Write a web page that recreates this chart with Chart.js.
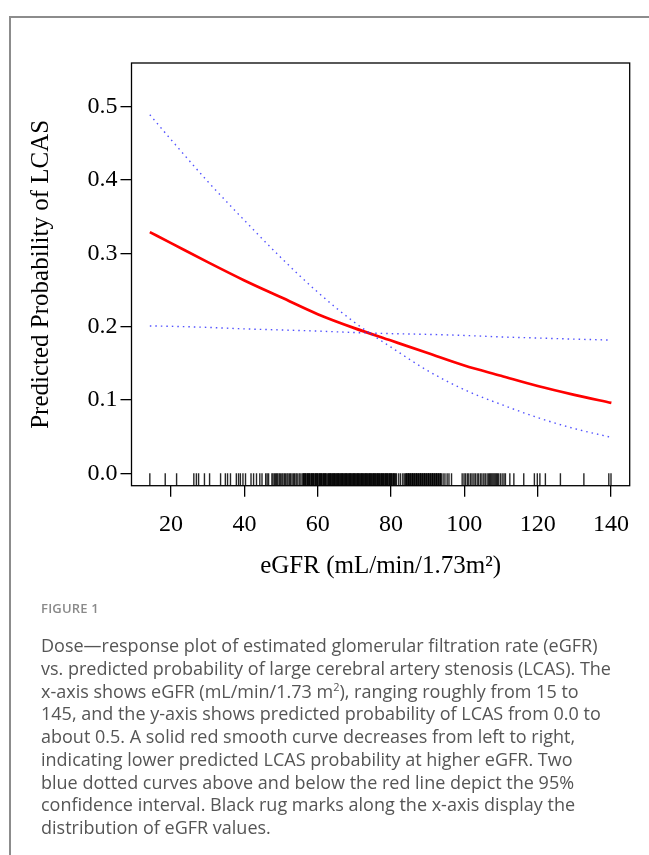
<!DOCTYPE html>
<html><head><meta charset="utf-8">
<script src="https://cdn.jsdelivr.net/npm/chart.js@4"></script>
<style>
html,body{margin:0;padding:0;background:#fff;width:649px;height:855px;overflow:hidden;}
#frame{position:absolute;left:9px;top:16px;width:650px;height:850px;border-left:2px solid #8c8c8c;border-top:2px solid #8c8c8c;}
#wrap{position:absolute;left:0;top:0;width:649px;height:600px;}
#cap{position:absolute;left:41px;top:598px;width:572px;font-family:"Open Sans",sans-serif;color:#555;}
#fig{font-size:13px;font-weight:600;color:#8a8a8a;letter-spacing:0.2px;line-height:20px;}
#txt{font-size:18px;line-height:22.75px;margin-top:16px;}
sup{font-size:11px;line-height:0;vertical-align:7px;}
</style>
</head><body>
<div id="frame"></div>
<div id="wrap"><canvas id="c" width="649" height="600"></canvas></div>
<div id="cap">
<div id="fig">FIGURE 1</div>
<div id="txt">Dose—response plot of estimated glomerular filtration rate (eGFR) vs. predicted probability of large cerebral artery stenosis (LCAS). The x-axis shows eGFR (mL/min/1.73 m<sup>2</sup>), ranging roughly from 15 to 145, and the y-axis shows predicted probability of LCAS from 0.0 to about 0.5. A solid red smooth curve decreases from left to right, indicating lower predicted LCAS probability at higher eGFR. Two blue dotted curves above and below the red line depict the 95% confidence interval. Black rug marks along the x-axis display the distribution of eGFR values.</div>
</div>
<script>
const curveX = [14.2, 20, 30, 40, 50, 60, 70, 80, 90, 100, 110, 120, 130, 140.1];
const predicted = [0.329, 0.314, 0.288, 0.263, 0.240, 0.217, 0.198, 0.181, 0.164, 0.147, 0.133, 0.119, 0.107, 0.096];
const ciSteep = [0.489, 0.455, 0.398, 0.345, 0.294, 0.247, 0.206, 0.172, 0.140, 0.114, 0.094, 0.076, 0.061, 0.049];
const ciFlat = [0.201, 0.2005, 0.199, 0.197, 0.1955, 0.194, 0.192, 0.1905, 0.1895, 0.188, 0.186, 0.1845, 0.183, 0.1817];
const xTicks = [20, 40, 60, 80, 100, 120, 140];
const yTicks = [0.0, 0.1, 0.2, 0.3, 0.4, 0.5];
const rugValues = [
14.2, 18.4, 21.5, 26.2, 26.9, 27.5, 29.1, 30.5, 33.5, 34.8, 35.4, 36.2, 37.8, 38.4, 38.9, 39.6, 40.3, 41.8, 42.5, 43.3, 44.2, 44.8,
45.8, 46.2, 46.6, 47.5, 47.8, 48.2, 48.5, 48.8, 49.1, 49.5, 49.8, 50.2, 50.5, 50.9, 51.2, 51.6, 51.9, 52.3, 52.6, 53.0, 53.4, 53.7, 54.1, 54.4, 54.9, 55.2,
55.7, 56.0, 56.3, 56.5, 56.8, 57.1, 57.4, 57.6, 57.9, 58.2, 58.5, 58.7, 59.0, 59.3, 59.6, 59.8, 60.1, 60.4, 60.7, 60.9, 61.2, 61.5, 61.8, 62.0, 62.3,
62.9, 63.2, 63.4, 63.7, 64.0, 64.3, 64.5, 64.8, 65.1, 65.4, 65.6, 65.9, 66.2, 66.5, 66.7, 67.0, 67.3, 67.6, 67.8, 68.1, 68.4, 68.7, 68.9, 69.2, 69.5,
69.8, 70.0, 70.3, 70.6, 70.9, 71.1, 71.4, 71.7, 72.0, 72.2, 72.5, 72.8, 73.1, 73.3, 73.6, 73.9, 74.2, 74.4, 74.7, 75.0, 75.3, 75.5, 75.8, 76.1, 76.4,
76.6, 76.9, 77.2, 77.5, 77.7, 78.0, 78.3, 78.6, 78.8, 79.1, 79.4, 79.7, 79.9, 80.2, 80.5, 80.8, 81.0,
56.15, 56.65, 57.25, 57.75, 58.35, 58.85, 59.45, 59.95, 60.55, 61.05, 61.65, 62.15, 62.6, 63.05, 63.55, 64.15, 64.65, 65.25, 65.75, 66.35,
66.85, 67.45, 67.95, 68.55, 69.05, 69.65, 70.15, 70.75, 71.25, 71.85, 72.35, 72.95, 73.45, 74.05, 74.55, 75.15, 75.65, 76.25, 76.75, 77.35,
77.85, 78.45, 78.95, 79.55, 80.05, 80.65, 81.25,
81.5, 82.1, 82.6, 83.2, 83.6,
84.0, 84.3, 84.6, 84.8, 85.1, 85.4, 85.7, 85.9, 86.2, 86.5, 86.8, 87.0, 87.3, 87.6, 87.9, 88.1, 88.4, 88.7, 89.0, 89.2, 89.5, 89.8, 90.1, 90.3, 90.6,
90.9, 91.2, 91.4, 91.7, 92.0, 92.3, 92.5, 92.8, 93.1, 93.4, 93.7,
84.15, 84.7, 85.25, 85.8, 86.35, 86.9, 87.45, 88.0, 88.55, 89.1, 89.65, 90.2, 90.75, 91.3, 91.85, 92.4, 92.95, 93.5,
94.2, 94.7, 95.3, 95.8, 96.5,
99.4, 99.9, 100.3, 100.8, 101.2, 101.7, 102.1, 102.6, 103.0, 103.5, 103.9, 104.4, 104.8, 105.3, 105.7, 106.2, 106.6, 106.9, 107.2, 107.5, 107.8,
108.1, 108.4, 108.7, 109.0, 109.3, 109.8, 110.3, 110.8,
111.2, 112.4, 113.5, 116.2, 119.1, 119.9, 120.6, 122.1, 126.2, 132.6, 139.4, 140.0
];

const pts = (ys) => curveX.map((x, i) => ({x: x, y: ys[i]}));
const serif = 'Liberation Serif';
const RUG_MID = -0.0085;

const boxPlugin = {
  id: 'box',
  afterDatasetsDraw(chart) {
    const a = chart.chartArea, ctx = chart.ctx;
    ctx.save();
    ctx.strokeStyle = '#000';
    ctx.lineWidth = 1.3;
    ctx.strokeRect(a.left, a.top, a.right - a.left, a.bottom - a.top);
    ctx.restore();
  }
};

new Chart(document.getElementById('c'), {
  type: 'scatter',
  data: {
    datasets: [
      {label: 'rug', data: rugValues.map(v => ({x: v, y: RUG_MID})), pointStyle: 'line', rotation: 90, pointRadius: 6.3, pointBorderWidth: 1.4, borderColor: 'rgba(0,0,0,0.85)', backgroundColor: 'rgba(0,0,0,0.85)', showLine: false},
      {label: 'upper', data: pts(ciSteep), showLine: true, pointRadius: 0, borderColor: 'rgba(50,50,255,0.85)', borderWidth: 1.4, borderDash: [1.5, 4], cubicInterpolationMode: 'monotone'},
      {label: 'lower', data: pts(ciFlat), showLine: true, pointRadius: 0, borderColor: 'rgba(50,50,255,0.85)', borderWidth: 1.4, borderDash: [1.5, 4], cubicInterpolationMode: 'monotone'},
      {label: 'pred', data: pts(predicted), showLine: true, pointRadius: 0, borderColor: '#ff0000', borderWidth: 2.7, cubicInterpolationMode: 'monotone'}
    ]
  },
  options: {
    responsive: false,
    animation: false,
    devicePixelRatio: 1,
    events: [],
    layout: {padding: {left: 0, top: 63, right: 19.3, bottom: 14.3}},
    plugins: {legend: {display: false}, tooltip: {enabled: false}},
    scales: {
      x: {
        type: 'linear', min: 9.2, max: 145.1,
        afterBuildTicks: s => { s.ticks = xTicks.map(v => ({value: v})); },
        afterFit: s => { s.height = 100; },
        ticks: {font: {family: serif, size: 24}, color: '#000', padding: 14, maxRotation: 0, autoSkip: false, callback: v => String(v)},
        grid: {display: true, drawOnChartArea: false, drawTicks: true, tickLength: 11, color: '#000', lineWidth: 1.3},
        border: {display: false},
        title: {display: true, text: 'eGFR (mL/min/1.73m²)', font: {family: serif, size: 25}, color: '#000', padding: {top: 0, bottom: 4}}
      },
      y: {
        type: 'linear', min: -0.0169, max: 0.5596,
        afterBuildTicks: s => { s.ticks = yTicks.map(v => ({value: v})); },
        afterFit: s => { s.width = 131.5; },
        ticks: {font: {family: serif, size: 24}, color: '#000', padding: 3, autoSkip: false, callback: v => Number(v).toFixed(1)},
        grid: {display: true, drawOnChartArea: false, drawTicks: true, tickLength: 11, color: '#000', lineWidth: 1.3},
        border: {display: false},
        title: {display: true, text: 'Predicted Probability of LCAS', font: {family: serif, size: 25}, color: '#000', padding: {top: 26, bottom: 0}}
      }
    }
  },
  plugins: [boxPlugin]
});
</script>
</body></html>
